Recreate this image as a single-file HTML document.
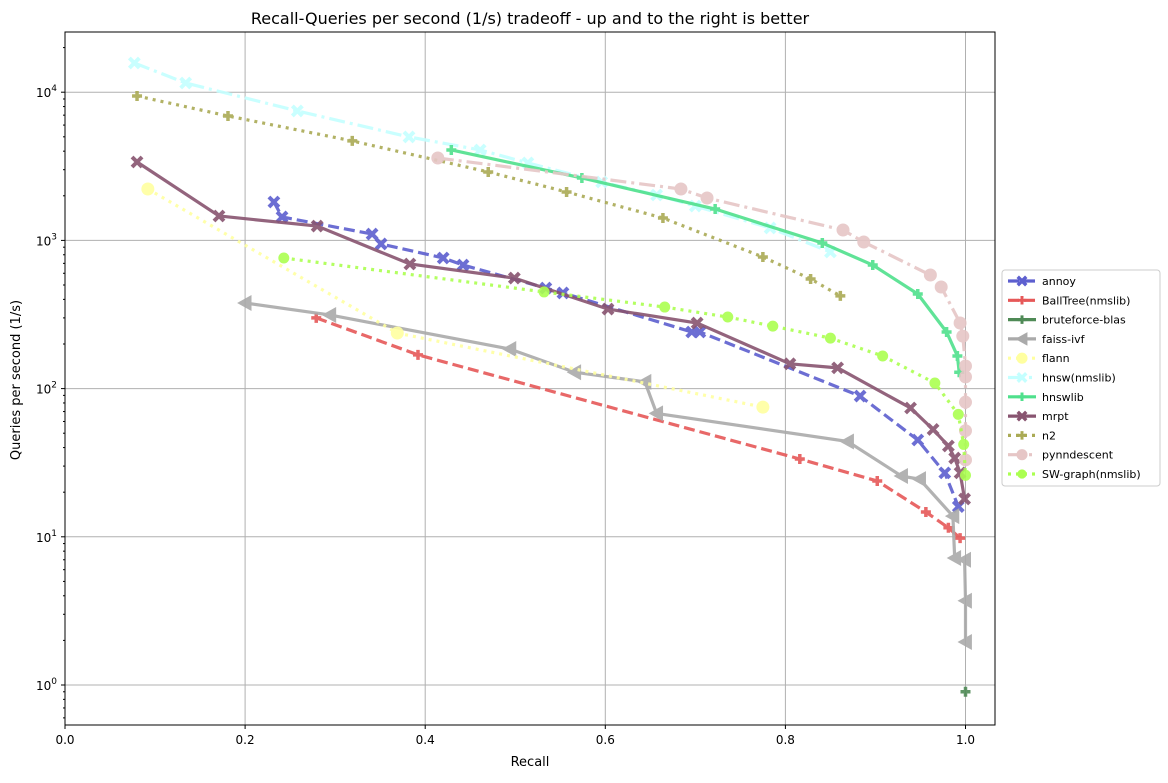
<!DOCTYPE html>
<html><head><meta charset="utf-8"><style>
body{margin:0;background:#fff;font-family:"Liberation Sans","DejaVu Sans",sans-serif}
svg text{font-family:"DejaVu Sans","Liberation Sans",sans-serif}
</style></head><body>
<svg id="chart" width="1168" height="778" xmlns="http://www.w3.org/2000/svg">
<rect width="1168" height="778" fill="#fff"/>
<text x="530" y="24" font-size="16" text-anchor="middle">Recall-Queries per second (1/s) tradeoff - up and to the right is better</text>
<text x="530" y="766" font-size="13" text-anchor="middle">Recall</text>
<text transform="translate(20,380) rotate(-90)" font-size="13" text-anchor="middle">Queries per second (1/s)</text>
<g id="grid"></g><g id="series"></g><g id="axes"></g><g id="legend"></g>
</svg>
<script>
const names=["annoy","BallTree(nmslib)","bruteforce-blas","faiss-ivf","flann","hnsw(nmslib)","hnswlib","mrpt","n2","pynndescent","SW-graph(nmslib)"];
const annoyR=[0.232,0.241,0.341,0.351,0.420,0.442,0.534,0.553,0.696,0.705,0.883,0.947,0.977,0.992];
const annoyQ=[1816,1439,1104,946,761,682,477,442,241,241,89,45,27,16];
const ballR=[0.279,0.392,0.816,0.902,0.956,0.981,0.994];
const ballQ=[300,169,33.5,23.8,14.7,11.5,9.8];
const bruteR=[1.0];
const bruteQ=[0.9];
const faissR=[0.2,0.294,0.494,0.566,0.644,0.657,0.869,0.929,0.949,0.986,0.988,0.999,1.0,1.0];
const faissQ=[378,314,185,129,111,68,44,25.7,24.5,13.8,7.2,7.0,3.7,1.95];
const flannR=[0.092,0.369,0.775];
const flannQ=[2222,237,75];
const hnswR=[0.077,0.134,0.258,0.382,0.461,0.514,0.596,0.657,0.700,0.783,0.850];
const hnswQ=[15740,11540,7470,4990,4075,3330,2478,2024,1705,1213,835];
const hnswlibR=[0.429,0.574,0.722,0.841,0.897,0.947,0.979,0.991,0.993];
const hnswlibQ=[4075,2637,1628,960,682,435,241,166,129];
const mrptR=[0.080,0.171,0.280,0.383,0.499,0.603,0.702,0.805,0.858,0.939,0.964,0.981,0.988,0.994,0.999];
const mrptQ=[3380,1461,1250,693,557,344,277,147,138,74,53,41,34,27,18];
const n2R=[0.080,0.181,0.319,0.470,0.557,0.664,0.775,0.828,0.861];
const n2Q=[9430,6910,4690,2896,2123,1416,773,549,422];
const pynnR=[0.414,0.684,0.713,0.864,0.887,0.961,0.973,0.994,0.997,1.0,1.0,1.0,1.0,1.0];
const pynnQ=[3597,2222,1932,1175,975,584,485,277,226,142,120,81,52,33];
const swR=[0.243,0.532,0.666,0.736,0.786,0.850,0.908,0.966,0.992,0.998,1.0];
const swQ=[761,449,355,304,264,219,166,109,67,42,26];
const xTicks=[0,0.2,0.4,0.6,0.8,1.0];
const xTickLabels=["0.0","0.2","0.4","0.6","0.8","1.0"];
const yTicks=[0,1,2,3,4];

const X0=65,X1=995,Y0=32,Y1=725;
function xs(v){return 65+v*900.5;}
function ys(q){return 685-Math.log10(q)*148.2;}
const NS="http://www.w3.org/2000/svg";
function mk(t,a,p){const e=document.createElementNS(NS,t);for(const k in a)e.setAttribute(k,a[k]);p.appendChild(e);return e;}
const G=document.getElementById('grid'),S=document.getElementById('series'),A=document.getElementById('axes'),L=document.getElementById('legend');
xTicks.forEach((t,i)=>{const x=xs(t);
 const g=mk('line',{x1:x,x2:x,y1:Y0,y2:Y1,stroke:'#b0b0b0','stroke-width':1},G);
 
 mk('line',{x1:x,x2:x,y1:Y1,y2:Y1+4,stroke:'#000'},A);
 const tx=mk('text',{x:x,y:Y1+19,'font-size':12,'text-anchor':'middle'},A);tx.textContent=xTickLabels[i];
 
});
yTicks.forEach(p=>{const y=ys(Math.pow(10,p));
 const g=mk('line',{x1:X0,x2:X1,y1:y,y2:y,stroke:'#b0b0b0','stroke-width':1},G);
 
 mk('line',{x1:X0-4,x2:X0,y1:y,y2:y,stroke:'#000'},A);
 const tx=mk('text',{x:X0-8,y:y+5,'font-size':12,'text-anchor':'end'},A);
 tx.innerHTML='10<tspan dy="-6" font-size="9">'+p+'</tspan>';
 
});
for(let p=-1;p<=4;p++)for(let m=2;m<10;m++){const y=ys(m*Math.pow(10,p));if(y>Y0&&y<Y1)mk('line',{x1:X0-2,x2:X0,y1:y,y2:y,stroke:'#000'},A);}
const fr=mk('rect',{x:X0,y:Y0,width:X1-X0,height:Y1-Y0,fill:'none',stroke:'#000','stroke-width':1},A);


function marker(type,x,y,c,p,s){
 s=s||1;
 if(type==='X'){const d=5*s;mk('path',{d:`M${x-d},${y-d}L${x+d},${y+d}M${x-d},${y+d}L${x+d},${y-d}`,stroke:c,'stroke-width':4*s,fill:'none'},p);}
 else if(type==='+'){const d=5*s;mk('path',{d:`M${x-d},${y}L${x+d},${y}M${x},${y-d}L${x},${y+d}`,stroke:c,'stroke-width':3.5*s,fill:'none'},p);}
 else if(type==='<'){const d=8*s;mk('path',{d:`M${x-d},${y}L${x+d*0.8},${y-d}L${x+d*0.8},${y+d}Z`,fill:c},p);}
 else if(type==='o'){mk('circle',{cx:x,cy:y,r:6.5*s,fill:c},p);}
 else if(type==='8'){mk('circle',{cx:x,cy:y,r:5.5*s,fill:c},p);}
}
const cfg=[
 [annoyR,annoyQ,'#5d5fcf','11,5','X'],
 [ballR,ballQ,'#e65858','11,5','+'],
 [bruteR,bruteQ,'#4f8a56','','+'],
 [faissR,faissQ,'#aaaaaa','','<'],
 [flannR,flannQ,'#ffffa0','3,5','o'],
 [hnswR,hnswQ,'#c4ffff','16,5,3,5','X'],
 [hnswlibR,hnswlibQ,'#4fe08c','','+'],
 [mrptR,mrptQ,'#885470','','X'],
 [n2R,n2Q,'#aaaa55','3,5','+'],
 [pynnR,pynnQ,'#e6c6c6','16,5,3,5','o'],
 [swR,swQ,'#abff50','3,5','8']];
cfg.forEach((c,i)=>{
 const g=mk('g',{opacity:0.9},S);
 
 
 const pts=c[0].map((r,j)=>xs(r)+','+ys(c[1][j])).join(' ');
 mk('polyline',{points:pts,fill:'none',stroke:c[2],'stroke-width':3.2,'stroke-dasharray':c[3]||'none'},g);
 c[0].forEach((r,j)=>marker(c[4],xs(r),ys(c[1][j]),c[2],g));
 const ly=281+i*19.3;
 const le=mk('g',{},L);
 
 
 mk('line',{x1:1008,x2:1036,y1:ly,y2:ly,stroke:c[2],'stroke-width':3.2,'stroke-dasharray':c[3]||'none'},le);
 marker(c[4],1022,ly,c[2],le,0.85);
 const t=mk('text',{x:1042,y:ly+4,'font-size':11},le);t.textContent=names[i];
});
const lb=mk('rect',{x:1002,y:270,width:158,height:216,rx:3,fill:'#fff','fill-opacity':0.8,stroke:'#ccc'},L);
L.insertBefore(lb,L.firstChild);

</script>
</body></html>
